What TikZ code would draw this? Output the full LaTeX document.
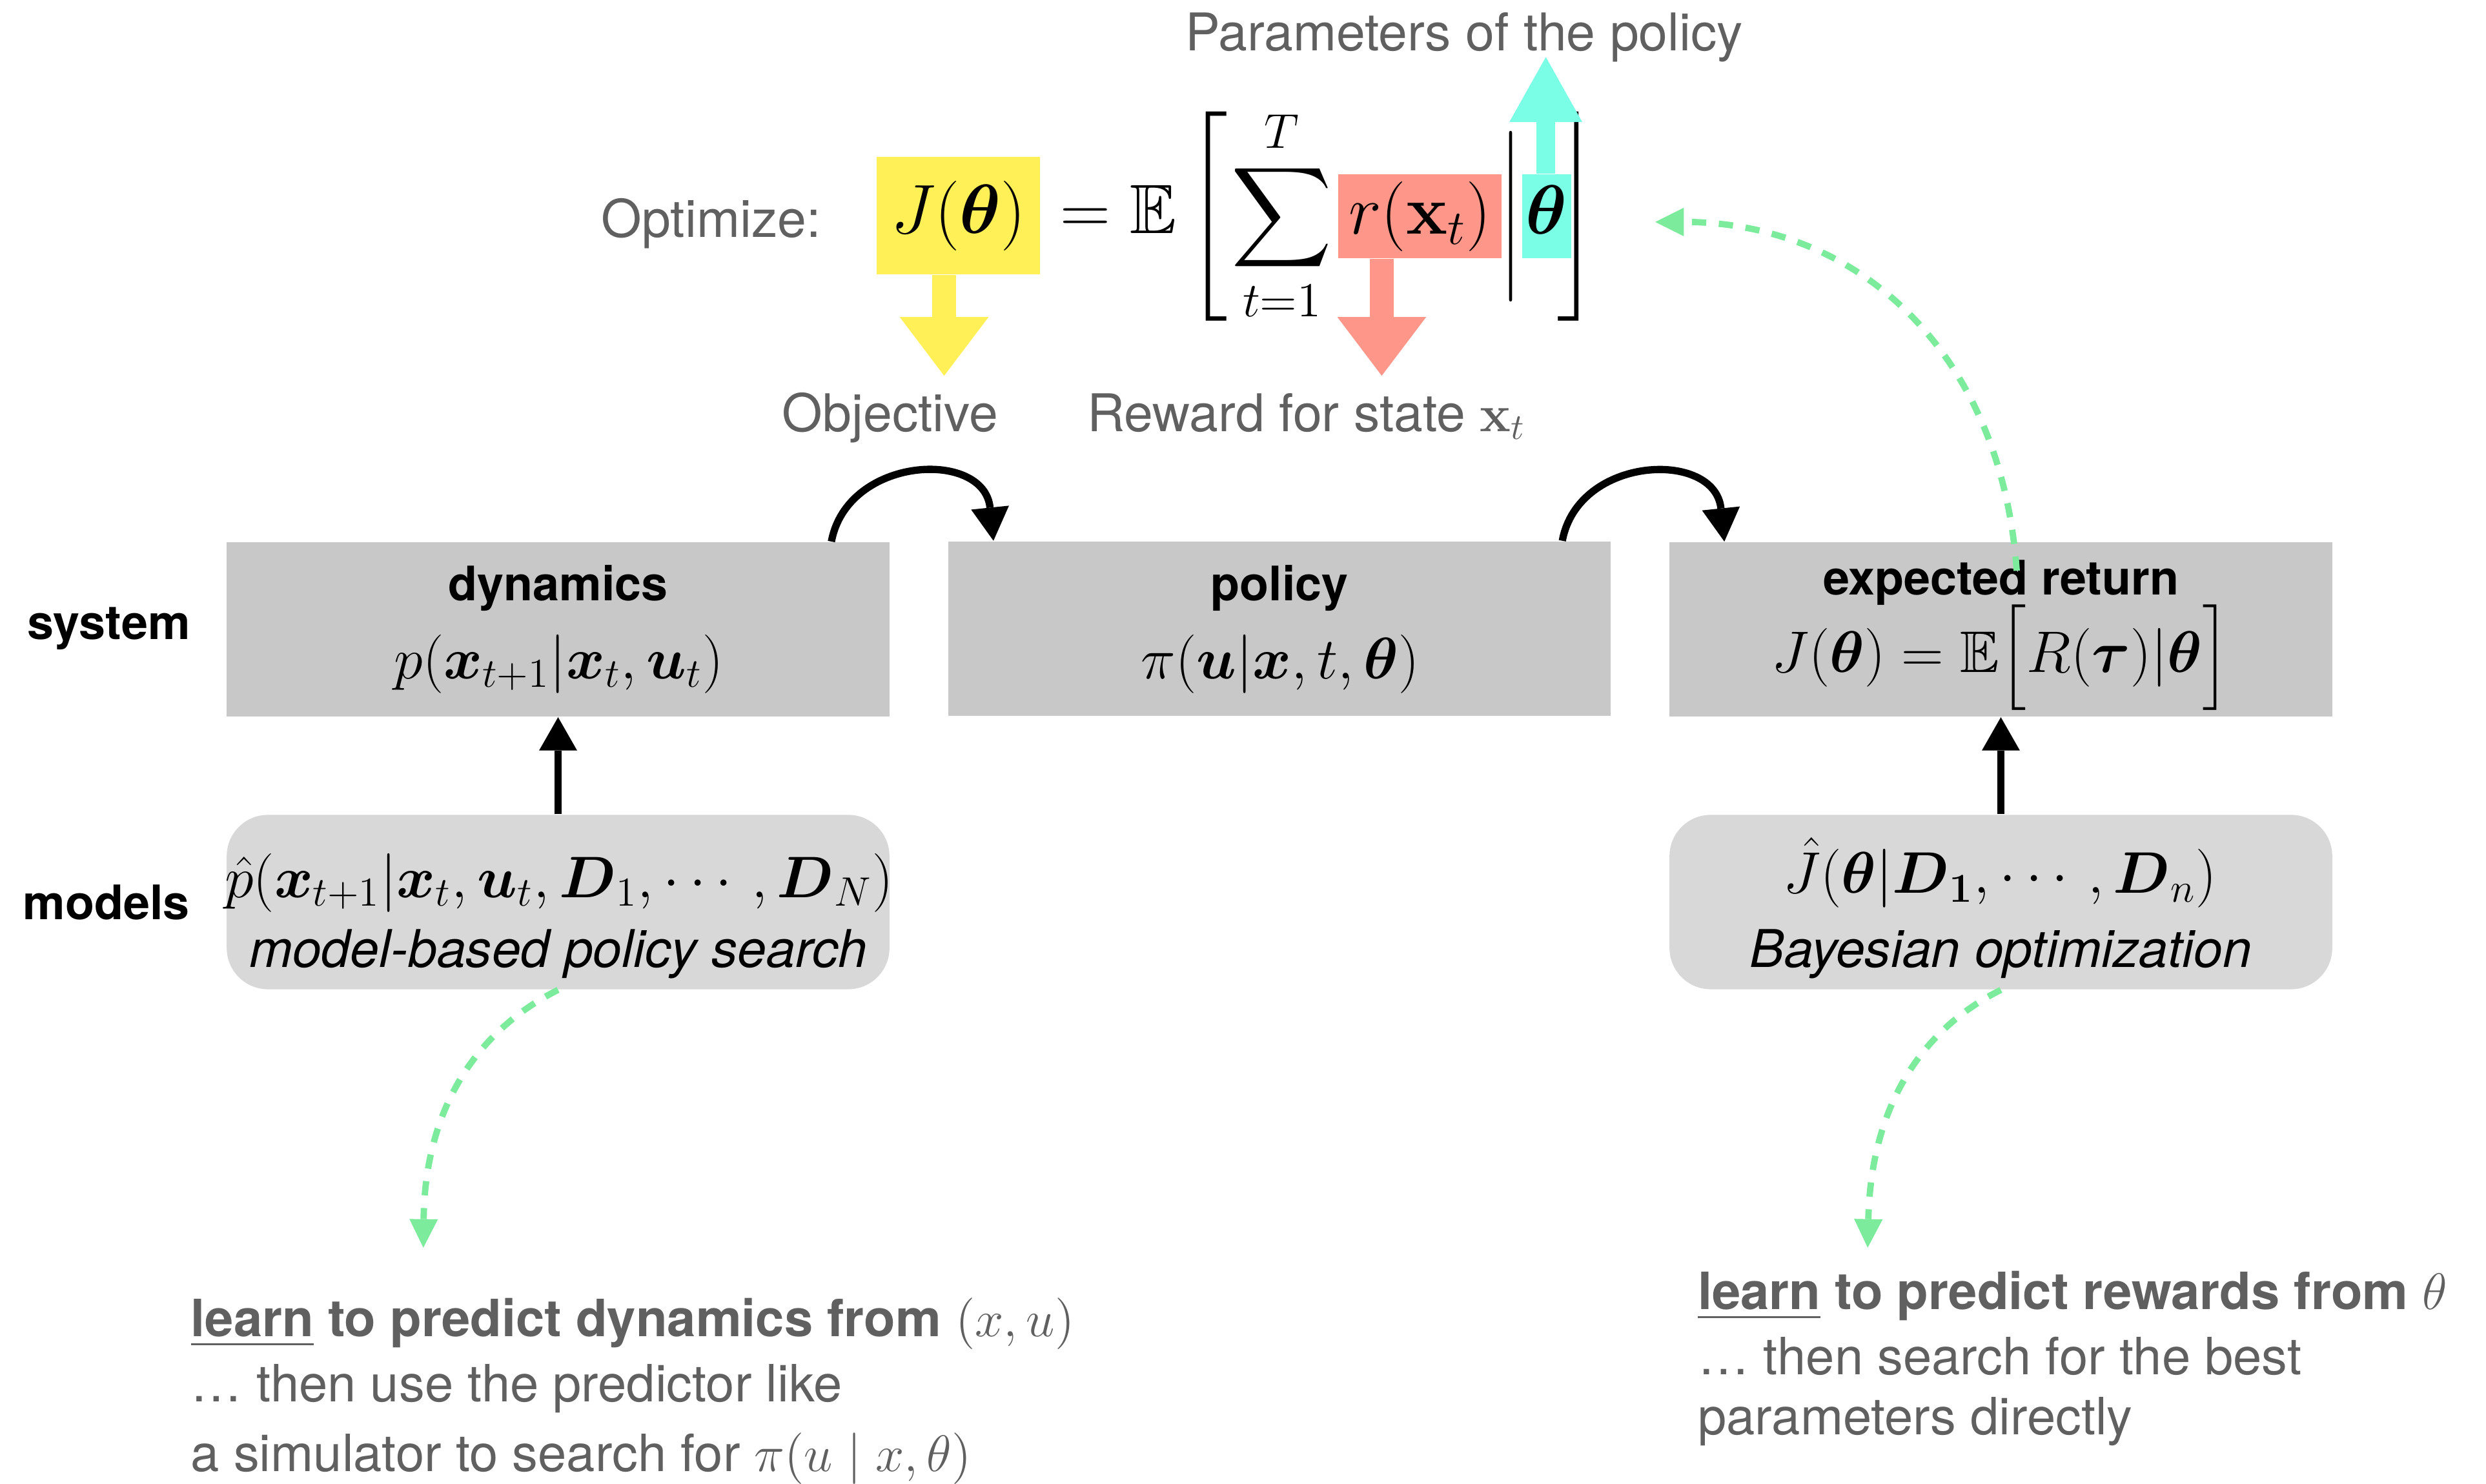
\RequirePackage{fix-cm}
\documentclass[tikz,border=0pt]{standalone}
\usepackage{amsmath,amssymb}
\usepackage[no-math]{fontspec}
\setmainfont{TeX Gyre Heros}
\usetikzlibrary{arrows.meta,calc}
\definecolor{boxgray}{RGB}{200,200,200}
\definecolor{modelgray}{RGB}{216,216,216}
\definecolor{txtgray}{RGB}{96,96,96}
\definecolor{hlyellow}{RGB}{255,240,88}
\definecolor{hlred}{RGB}{255,150,138}
\definecolor{hlcyan}{RGB}{122,255,230}
\definecolor{dashgreen}{RGB}{124,236,156}
\newcommand{\mydelims}{\delimiterfactor=1000 \delimitershortfall=0pt }
\begin{document}
\begin{tikzpicture}[x=0.5pt,y=-0.5pt,
  graybox/.style={fill=boxgray, minimum width=209pt, minimum height=55pt, inner sep=0pt},
  modelbox/.style={fill=modelgray, rounded corners=13pt, minimum width=209pt, minimum height=55pt, inner sep=0pt},
  lbl/.style={font=\fontsize{15}{18}\selectfont\bfseries, anchor=base, inner sep=0pt},
  gtext/.style={text=txtgray, font=\fontsize{16.4}{20}\selectfont, anchor=base, inner sep=0pt},
  btext/.style={text=txtgray, font=\fontsize{16.2}{20}\selectfont, anchor=base west, inner sep=0pt},
  itl/.style={font=\fontsize{16.4}{20}\selectfont\itshape, anchor=base, inner sep=0pt},
  fml/.style={font=\fontsize{18.5}{22}\selectfont, anchor=base, inner sep=0pt},
  eqn/.style={font=\fontsize{22}{26}\selectfont, inner sep=0pt},
  blk/.style={line width=2.3pt, -{Triangle[width=12pt,length=10.5pt,line width=0pt]}},
  grn/.style={draw=dashgreen, line width=2pt, dash pattern=on 4.5pt off 4pt, -{Triangle[width=9pt,length=9pt,line width=0pt]}}
]
\useasboundingbox (0,0) rectangle (1568,936);

% ---------- top equation ----------
\node[gtext] (param) at (923.5,32) {Parameters of the policy};
\node[gtext] (optim) at (448.5,149.5) {Optimize:};
\node[eqn, fill=hlyellow, minimum width=51.5pt, minimum height=37pt] (yb) at (604.5,136) {$J(\boldsymbol{\theta})$};
\node[eqn, anchor=base] (eqE) at (705.5,147) {$=\mathbb{E}$};
\node[eqn] (lbk) at (762.5,136.5) {$\mydelims\left[\vcenter{\hbox{\vrule height 66pt width 0pt}}\right.$};
\node[eqn] (sum) at (808.5,136) {$\displaystyle\sum_{t=1}^{T}$};
\node[eqn, fill=hlred, minimum width=51.5pt, minimum height=26.5pt] (rb) at (895.5,136.5) {$r(\mathbf{x}_t)$};
\node[eqn] (bar) at (954,136.5) {$\mydelims\left|\vcenter{\hbox{\vrule height 40.5pt width 0pt}}\right.$};
\node[eqn, fill=hlcyan, minimum width=15.5pt, minimum height=26.5pt] (cb) at (975.5,136.5) {$\vphantom{(}\boldsymbol{\theta}$};
\node[eqn] (rbk) at (994,136.5) {$\mydelims\left.\vcenter{\hbox{\vrule height 66pt width 0pt}}\right]$};

\coordinate (ytip) at (595.5,237);
\coordinate (rtip) at (871.5,237);
\coordinate (ctip) at (975,36);
\draw[line width=7.5pt, hlyellow, -{Triangle[width=28pt,length=18.5pt,line width=0pt]}] (yb.south -| ytip) -- (ytip);
\draw[line width=7.5pt, hlred, -{Triangle[width=28pt,length=18.5pt,line width=0pt]}] (rb.south -| rtip) -- (rtip);
\draw[line width=6pt, hlcyan, -{Triangle[width=23pt,length=20.5pt,line width=0pt]}] (cb.north -| ctip) -- (ctip);

\node[gtext] (objective) at (561.5,272) {Objective};
\node[gtext] (reward) at (824,272) {Reward for state $\mathbf{x}_t$};

% ---------- boxes ----------
\node[graybox] (dyn) at (352,397) {};
\node[graybox] (pol) at (807,396.5) {};
\node[graybox] (exr) at (1262,397) {};
\node[modelbox] (mbps) at (352,569) {};
\node[modelbox] (bo) at (1262,569) {};

\node[lbl] (sys) at (68.5,403.5) {system};
\node[lbl] (mod) at (67,580) {models};

\node[lbl] (tdyn) at (352,379) {dynamics};
\node[fml] (fdyn) at (352.5,428) {$p(\boldsymbol{x}_{t+1}|\boldsymbol{x}_t,\boldsymbol{u}_t)$};
\node[lbl] (tpol) at (807,379) {policy};
\node[fml] (fpol) at (807.5,428) {$\pi(\boldsymbol{u}|\boldsymbol{x},t,\boldsymbol{\theta})$};
\node[lbl] (texr) at (1262,375) {expected return};
\node[fml] (fexr) at (1262,424) {$\mydelims J(\boldsymbol{\theta})=\mathbb{E}\!\left[\vcenter{\hbox{\vrule height 31pt width 0pt}}R(\boldsymbol{\tau})|\boldsymbol{\theta}\right]$};

\node[fml] (fmb) at (352.5,566) {$\hat{p}(\boldsymbol{x}_{t+1}|\boldsymbol{x}_t,\boldsymbol{u}_t,\boldsymbol{D}_1,\cdots,\boldsymbol{D}_N)$};
\node[itl] (tmb) at (352,610) {model-based policy search};
\node[fml] (fbo) at (1261.5,563.5) {$\hat{J}(\boldsymbol{\theta}|\boldsymbol{D}_{\mathbf{1}},\cdots,\boldsymbol{D}_n)$};
\node[itl] (tbo) at (1262,610) {Bayesian optimization};

% ---------- black arrows ----------
\draw[blk] (mbps.north) -- (dyn.south);
\draw[blk] (bo.north) -- (exr.south);
\draw[blk] ($(dyn.north east)+(-37,0)$) .. controls +(10,-54) and +(-6,-58) .. ($(pol.north west)+(29,0)$);
\draw[blk] ($(pol.north east)+(-31,0)$) .. controls +(10,-54) and +(-6,-58) .. ($(exr.north west)+(35,0)$);

% ---------- green dashed arrows ----------
\coordinate (gs) at (1272,360);
\coordinate (ge) at (1044,140);
\coordinate (gl) at (267,787);
\coordinate (gr) at (1178,787);
\draw[grn] (gs) .. controls (1262,220) and (1170,140) .. (ge);
\draw[grn] (mbps.south) .. controls +(-52,26) and +(1,-87) .. (gl);
\draw[grn] (bo.south) .. controls +(-52,26) and +(2,-87) .. (gr);

% ---------- bottom texts ----------
\node[btext] (l1) at (120,843) {\textbf{\underline{learn} to predict dynamics from} $(x,u)$};
\node[btext] (l2) at (120,884) {… then use the predictor like};
\node[btext] (l3) at (120,928) {a simulator to search for $\pi(u\mid x,\theta)$};
\node[btext] (r1) at (1070.5,826) {\textbf{\underline{learn} to predict rewards from} $\theta$};
\node[btext] (r2) at (1070.5,867) {… then search for the best};
\node[btext] (r3) at (1070.5,905) {parameters directly};
\end{tikzpicture}
\end{document}
